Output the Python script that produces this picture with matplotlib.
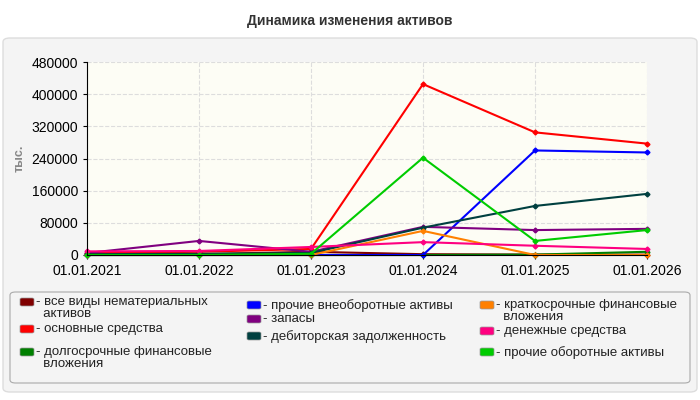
import matplotlib
matplotlib.use("Agg")
import matplotlib.pyplot as plt
from matplotlib.patches import FancyBboxPatch

plt.rcParams['font.family'] = ['Liberation Sans', 'DejaVu Sans']

dates = ["01.01.2021","01.01.2022","01.01.2023","01.01.2024","01.01.2025","01.01.2026"]
names = ["все виды нематериальных\nактивов","основные средства","долгосрочные финансовые\nвложения",
         "прочие внеоборотные активы","запасы","дебиторская задолженность",
         "краткосрочные финансовые\nвложения","денежные средства","прочие оборотные активы"]
colors = ["#800000","#ff0000","#008000","#0000ff","#800080","#004040","#ff8000","#ff0080","#00cc00"]
intang = [1000,2000,8000,2000,1000,1000]
fixed = [5000,8000,15000,425000,305000,277000]
ltfin = [0,0,0,0,1000,8000]
othernc = [0,0,0,0,260000,255000]
invent = [5000,35000,8000,70000,62000,65000]
receiv = [2000,3000,5000,68000,122000,152000]
stfin = [0,0,0,60000,0,0]
cash = [9000,10000,20000,32000,23000,15000]
othercur = [0,0,3000,242000,35000,62000]
series = [intang,fixed,ltfin,othernc,invent,receiv,stfin,cash,othercur]

fig = plt.figure(figsize=(7,4), dpi=100)
fig.patch.set_facecolor("white")
fig.add_artist(FancyBboxPatch((3/700,8/400),694/700,354/400,boxstyle="round,pad=0,rounding_size=0.01",
    transform=fig.transFigure,facecolor="#f4f4f4",edgecolor="#dddddd",lw=1,zorder=-5))
fig.text(0.5,0.948,"Динамика изменения активов",ha="center",va="center",fontsize=10,fontweight="bold",color="#333333")
ax = fig.add_axes([87/700,145/400,560/700,193/400])
ax.set_zorder(5)
ax.set_facecolor("#fdfdf5")
x = range(len(dates))
for s,c in zip(series,colors):
    ax.plot(x,s,color=c,lw=1.5,marker="D",ms=2.5,clip_on=False)
ax.set_xlim(0,5); ax.set_ylim(0,480000)
ax.set_xticks(list(x)); ax.set_xticklabels(dates,fontsize=10)
ax.set_yticks(range(0,480001,80000)); ax.tick_params(labelsize=10,length=3)
ax.grid(True,ls="--",color="#dddddd",lw=0.8)
for s in ["top","right"]: ax.spines[s].set_visible(False)
ax.set_ylabel("тыс.",fontsize=9,color="#888888",fontweight="bold")
fig.add_artist(FancyBboxPatch((10/700,17/400),680/700,91/400,boxstyle="round,pad=0,rounding_size=0.008",
    transform=fig.transFigure,facecolor="#f4f4f4",edgecolor="#aaaaaa",lw=0.8,zorder=-4))
cols_x = [20,247,480]
rows = [[(0,302),(1,329),(2,352)],[(3,305),(4,319),(5,336)],[(6,305),(7,331),(8,352)]]
for cx,col in zip(cols_x,rows):
    for i,yy in col:
        fig.add_artist(FancyBboxPatch(((cx)/700,(400-yy-4)/400),14/700,8/400,boxstyle="round,pad=0,rounding_size=0.003",
            transform=fig.transFigure,facecolor=colors[i],edgecolor="#999999",lw=0.5,zorder=2))
        fig.text((cx+16)/700,(400-yy+6)/400,"- "+names[i].replace("\n","\n  "),fontsize=9.5,va="top",color="#222222",linespacing=0.95)
fig.savefig("out.png",dpi=100)
